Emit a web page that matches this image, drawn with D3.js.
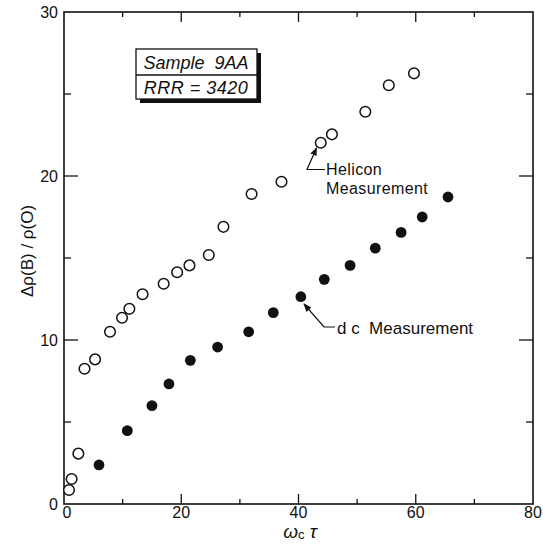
<!DOCTYPE html>
<html><head><meta charset="utf-8">
<script src="https://cdn.jsdelivr.net/npm/d3@7"></script>
<style>body{margin:0;background:#fff}svg{display:block}text{font-family:"Liberation Sans",Arial,sans-serif;fill:#111}</style>
</head><body>
<script>
const heliconX = [0.85,1.3,2.45,3.5,5.3,7.85,9.9,11.15,13.4,17.0,19.3,21.4,24.7,27.2,32.0,37.1,43.8,45.7,51.4,55.4,59.7];
const heliconY = [0.85,1.52,3.07,8.25,8.82,10.5,11.36,11.9,12.79,13.43,14.13,14.55,15.18,16.9,18.9,19.65,22.03,22.54,23.92,25.53,26.26];
const dcX = [5.97,10.8,15.0,17.9,21.55,26.2,31.5,35.7,40.4,44.4,48.8,53.1,57.5,61.1,65.5];
const dcY = [2.38,4.47,6.0,7.32,8.76,9.57,10.5,11.67,12.64,13.7,14.55,15.6,16.56,17.5,18.72];
const xTicks = [0,20,40,60,80];
const yTicks = [0,10,20,30];
const xMinor = [10,30,50,70];
const yMinor = [5,15,25];

const W=545,H=544;
const svg=d3.select("body").append("svg").attr("width",W).attr("height",H);
const x=d3.scaleLinear().domain([0,80]).range([64,533]);
const y=d3.scaleLinear().domain([0,30]).range([504,12]);
const stroke="#111";

// frame
svg.append("rect").attr("x",64).attr("y",12).attr("width",469).attr("height",492)
  .attr("fill","none").attr("stroke",stroke).attr("stroke-width",1.6);

// x ticks (bottom & top, inward)
const xt=svg.append("g");
xTicks.concat(xMinor).forEach(v=>{
  const L = xTicks.includes(v)?10:5;
  if(v>0&&v<80){
    xt.append("line").attr("x1",x(v)).attr("x2",x(v)).attr("y1",504).attr("y2",504-L).attr("stroke",stroke).attr("stroke-width",1.3);
    xt.append("line").attr("x1",x(v)).attr("x2",x(v)).attr("y1",12).attr("y2",12+L).attr("stroke",stroke).attr("stroke-width",1.3);
  }
});
xTicks.forEach(v=>{
  xt.append("text").attr("x",x(v)+(v===0?3:0)).attr("y",518).attr("text-anchor","middle").attr("font-size",16).text(v);
});
// y ticks
const yt=svg.append("g");
yTicks.concat(yMinor).forEach(v=>{
  const L = yTicks.includes(v)?14:7;
  if(v>0&&v<30){
    yt.append("line").attr("x1",64).attr("x2",64+L).attr("y1",y(v)).attr("y2",y(v)).attr("stroke",stroke).attr("stroke-width",1.3);
    yt.append("line").attr("x1",533).attr("x2",533-L).attr("y1",y(v)).attr("y2",y(v)).attr("stroke",stroke).attr("stroke-width",1.3);
  }
});
yTicks.forEach(v=>{
  yt.append("text").attr("x",58).attr("y",y(v)+6).attr("text-anchor","end").attr("font-size",16).text(v);
});

// axis labels
svg.append("text").attr("transform","translate(33,251) rotate(-90)").attr("text-anchor","middle")
  .attr("font-size",17).text("\u0394\u03C1(B) / \u03C1(O)");
const xl=svg.append("text").attr("x",300).attr("y",538).attr("text-anchor","middle").attr("font-size",19).attr("font-style","italic");
xl.append("tspan").text("\u03C9");
xl.append("tspan").attr("font-size",13).attr("dy",1).attr("font-style","normal").text("c");
xl.append("tspan").attr("dy",-1).text(" \u03C4");

// data
const hel=heliconX.map((v,i)=>[v,heliconY[i]]);
const dc=dcX.map((v,i)=>[v,dcY[i]]);
svg.append("g").selectAll("circle").data(hel).join("circle")
  .attr("cx",d=>x(d[0])).attr("cy",d=>y(d[1])).attr("r",5.3).attr("fill","#fff").attr("stroke",stroke).attr("stroke-width",1.5);
svg.append("g").selectAll("circle").data(dc).join("circle")
  .attr("cx",d=>x(d[0])).attr("cy",d=>y(d[1])).attr("r",5.4).attr("fill",stroke);

// arrows
const defs=svg.append("defs");
defs.append("marker").attr("id","ah").attr("viewBox","0 0 10 10").attr("refX",9).attr("refY",5)
  .attr("markerWidth",7).attr("markerHeight",7).attr("orient","auto-start-reverse")
  .append("path").attr("d","M0,1 L10,5 L0,9 Z").attr("fill",stroke);
svg.append("path").attr("d","M325,169.5 L307,169.5 L316.5,148").attr("fill","none").attr("stroke",stroke).attr("stroke-width",1.2).attr("marker-end","url(#ah)");
svg.append("path").attr("d","M335,327 L324,327 L304,304").attr("fill","none").attr("stroke",stroke).attr("stroke-width",1.2).attr("marker-end","url(#ah)");

svg.append("text").attr("x",326).attr("y",175).attr("font-size",16).attr("letter-spacing",0.4).text("Helicon");
svg.append("text").attr("x",326).attr("y",194).attr("font-size",16).attr("letter-spacing",0.4).text("Measurement");
svg.append("text").attr("x",337).attr("y",334).attr("font-size",17).attr("xml:space","preserve").text("d c  Measurement");

// sample box with shadow
svg.append("rect").attr("x",140).attr("y",53).attr("width",121).attr("height",50).attr("fill","#111");
svg.append("rect").attr("x",136).attr("y",49).attr("width",121).attr("height",50).attr("fill","#fff").attr("stroke",stroke).attr("stroke-width",1.3);
svg.append("line").attr("x1",136).attr("x2",257).attr("y1",75).attr("y2",75).attr("stroke",stroke).attr("stroke-width",1.3);
svg.append("text").attr("x",196).attr("y",69).attr("text-anchor","middle").attr("font-size",18).attr("font-style","italic").attr("xml:space","preserve").text("Sample  9AA");
svg.append("text").attr("x",196).attr("y",94).attr("text-anchor","middle").attr("font-size",18).attr("font-style","italic").attr("letter-spacing",0.5).text("RRR = 3420");
</script>
</body></html>
